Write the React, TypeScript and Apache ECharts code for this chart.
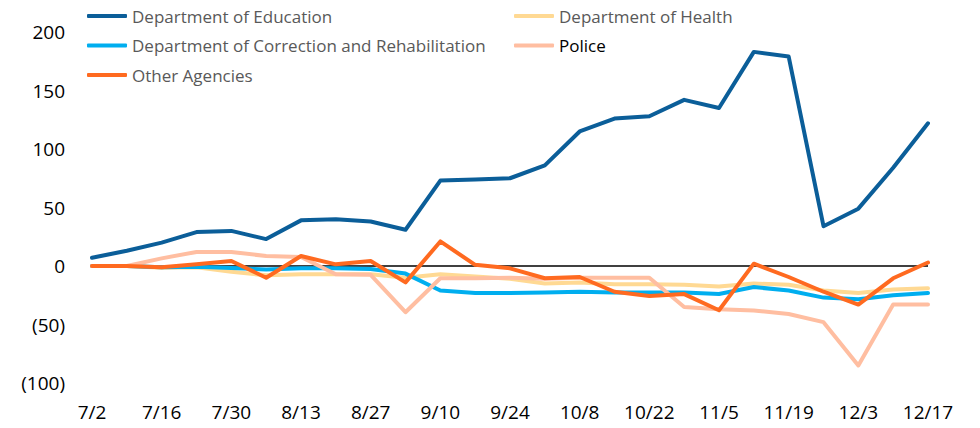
import React, { useEffect, useRef } from "react";
import * as echarts from "echarts";

const categories = ["7/2","7/9","7/16","7/23","7/30","8/6","8/13","8/20","8/27","9/3","9/10","9/17","9/24","10/1","10/8","10/15","10/22","10/29","11/5","11/12","11/19","11/26","12/3","12/10","12/17"];

const education = [7, 13, 20, 29, 30, 23, 39, 40, 38, 31, 73, 74, 75, 86, 115, 126, 128, 142, 135, 183, 179, 34, 49, 84, 122];
const health = [0, 0, -1.5, -1, -5, -8, -7, -7, -7, -10, -7, -9, -11, -15, -14, -15.5, -15.5, -16, -17.5, -15, -16, -21, -23, -20, -19];
const correction = [0, 0, -1, -0.6, -1.7, -3, -2, -2, -2.5, -6.5, -21, -23, -23, -22.7, -22, -22.7, -22.7, -22.7, -24, -18, -21, -27, -28.5, -25, -23];
const police = [0, 0, 6.5, 12, 12, 8.5, 7.7, -7, -7.5, -39.5, -10.5, -10.5, -10, -11, -10, -10, -10, -35, -37, -38, -41, -48, -85, -33, -33];
const other = [0, 0, -1, 1.4, 4.3, -10, 8.5, 1.4, 4.3, -14, 21, 1, -2, -10.5, -9.4, -22, -25.6, -24, -37.8, 2, -9.4, -22, -33, -10.5, 3];

const yTicks = { min: -100, max: 200, interval: 50 };

const FONT = "'Open Sans', Lato, sans-serif";

export default function App() {
  const ref = useRef<HTMLDivElement>(null);
  useEffect(() => {
    if (!ref.current) return;
    const chart = echarts.init(ref.current, undefined, { renderer: "svg" });
    const mk = (name: string, data: number[], color: string, extra: any = {}) => ({
      name,
      type: "line",
      data,
      symbol: "none",
      lineStyle: { color, width: 4, join: "round", cap: "round" },
      itemStyle: { color },
      ...extra,
    });
    const legendBase = {
      orient: "vertical",
      top: 6,
      padding: 0,
      itemWidth: 40,
      itemHeight: 4,
      itemGap: 9.5,
      icon: "roundRect",
      textStyle: { color: "#595959", fontSize: 17, fontFamily: FONT, lineHeight: 20 },
    };
    chart.setOption({
      animation: false,
      textStyle: { fontFamily: FONT },
      grid: { left: 92, right: 52, top: 32, bottom: 45, containLabel: false },
      legend: [
        {
          ...legendBase,
          data: ["Department of Education", "Department of Correction and Rehabilitation", "Other Agencies"],
          left: 87,
        },
        {
          ...legendBase,
          data: [
            "Department of Health",
            { name: "Police", textStyle: { color: "#000000" } },
          ],
          left: 514,
        },
      ],
      xAxis: {
        type: "category",
        data: categories,
        boundaryGap: false,
        axisLine: { show: false },
        axisTick: { show: false },
        axisLabel: { interval: 1, color: "#000", fontSize: 19, margin: 19, fontFamily: FONT },
        splitLine: { show: false },
      },
      yAxis: {
        type: "value",
        min: yTicks.min,
        max: yTicks.max,
        interval: yTicks.interval,
        axisLine: { show: false },
        axisTick: { show: false },
        splitLine: { show: false },
        axisLabel: {
          color: "#000",
          fontSize: 19,
          margin: 27,
          fontFamily: FONT,
          formatter: (v: number) => (v < 0 ? `(${Math.abs(v)})` : `${v}`),
        },
      },
      series: [
        mk("Department of Education", education, "#0B5E99", {
          markLine: {
            silent: true,
            symbol: "none",
            label: { show: false },
            lineStyle: { color: "#000", width: 1.5, type: "solid" },
            data: [{ yAxis: 0 }],
            z: 1,
          },
        }),
        mk("Department of Health", health, "#FFD993"),
        mk("Department of Correction and Rehabilitation", correction, "#00AEEF"),
        mk("Police", police, "#FFBEA1"),
        mk("Other Agencies", other, "#FF6A20"),
      ],
    });
    return () => chart.dispose();
  }, []);
  return <div ref={ref} style={{ width: 980, height: 428, position: "absolute", left: 0, top: 0 }} />;
}
